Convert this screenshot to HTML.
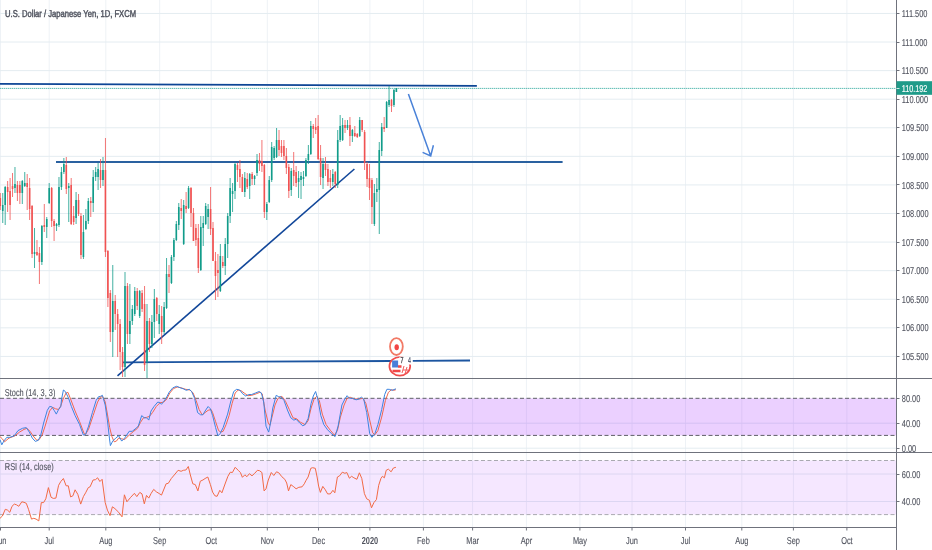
<!DOCTYPE html><html><head><meta charset="utf-8"><title>USDJPY 1D chart</title><style>
html,body{margin:0;padding:0;background:#fff;width:932px;height:550px;overflow:hidden}
svg{display:block}text{text-rendering:geometricPrecision;font-family:"Liberation Sans",Arial,sans-serif;font-size:10px;fill:#50535e;stroke:#50535e;stroke-width:0.12px}
</style></head><body>
<svg width="932" height="550" viewBox="0 0 932 550">
<path d="M0.5 0V527M49.2 0V527M105.8 0V527M159.7 0V527M211.2 0V527M267.3 0V527M318.5 0V527M369.9 0V527M423.4 0V527M472.6 0V527M526.4 0V527M579.9 0V527M632.0 0V527M685.5 0V527M741.8 0V527M793.4 0V527M846.9 0V527" stroke="#eef2f6" stroke-width="1" fill="none"/>
<path d="M0 13.45H896.5M0 42.03H896.5M0 70.61H896.5M0 99.19H896.5M0 127.77H896.5M0 156.35H896.5M0 184.93H896.5M0 213.51H896.5M0 242.09H896.5M0 270.67H896.5M0 299.25H896.5M0 327.83H896.5M0 356.41H896.5M0 423.20H896.5M0 448.20H896.5M0 474.00H896.5M0 501.50H896.5" stroke="#e4ecf1" stroke-width="1" fill="none"/>
<rect x="0" y="398.3" width="896.5" height="37.1" fill="rgba(153,21,255,0.2)"/>
<rect x="0" y="460.5" width="896.5" height="54.1" fill="rgba(153,21,255,0.1)"/>
<path d="M0 398.3H896.5M0 435.4H896.5" stroke="#5d5f66" stroke-width="1" stroke-dasharray="4 2.5" fill="none"/>
<path d="M0 460.5H896.5M0 514.6H896.5" stroke="#a9a9b0" stroke-width="1" stroke-dasharray="4 2.5" fill="none"/>
<path d="M0 88.4H896.5" stroke="#26a69a" stroke-opacity="0.75" stroke-width="1" stroke-dasharray="1.4 0.6" fill="none"/>
<path d="M0 83.9L476.9 85.9" stroke="#0d4595" stroke-width="1.7" fill="none"/>
<path d="M56 162H562.6" stroke="#2a61a0" stroke-width="2" fill="none"/>
<path d="M123 362.3L391.7 361M412.8 360.8L470 360.5" stroke="#1c55a0" stroke-width="1.8" fill="none"/>
<path d="M117.5 375.8L354.4 169" stroke="#12479a" stroke-width="1.6" fill="none"/>
<path d="M2.75 193.0V223.0M5.19 186.0V225.0M14.97 167.0V193.0M22.31 180.0V204.0M24.75 172.0V187.0M34.53 228.0V268.0M41.87 225.0V265.0M46.76 217.0V238.0M49.20 183.0V204.0M56.54 223.0V231.0M58.98 177.0V227.0M61.43 167.0V190.0M63.87 158.0V174.0M68.76 183.0V222.0M76.09 192.0V224.0M83.43 215.0V259.0M85.88 209.0V230.0M88.32 198.0V224.0M93.21 170.0V212.0M95.66 167.0V181.0M98.10 163.0V190.0M102.99 157.0V186.0M112.77 265.0V357.0M125.00 272.0V377.0M129.88 284.0V344.0M132.33 305.0V325.0M134.77 287.0V316.0M139.66 290.0V318.0M147.00 304.0V378.0M151.89 315.0V348.0M154.33 289.0V338.0M159.22 305.0V334.0M164.12 302.0V334.0M166.56 258.0V309.0M171.45 255.0V284.0M173.89 238.0V261.0M176.34 221.0V241.0M178.78 203.0V230.0M183.68 200.0V245.0M188.56 186.0V209.0M200.79 216.0V271.0M203.24 216.0V246.0M205.68 203.0V225.0M208.12 204.0V229.0M220.35 244.0V292.0M225.24 238.0V275.0M227.69 213.0V258.0M230.13 178.0V223.0M232.57 183.0V212.0M235.02 163.0V199.0M244.80 172.0V197.0M249.69 173.0V199.0M254.58 175.0V185.0M257.02 154.0V176.0M266.81 202.0V220.0M269.25 176.0V203.0M271.69 142.0V182.0M274.14 146.0V160.0M276.58 128.0V158.0M291.25 168.0V196.0M298.59 171.0V198.0M301.03 172.0V199.0M303.48 171.0V186.0M305.92 158.0V177.0M308.37 145.0V164.0M310.81 121.0V155.0M323.04 158.0V189.0M332.82 169.0V186.0M337.71 130.0V188.0M340.15 115.0V142.0M342.60 118.0V141.0M347.49 120.0V130.0M352.38 129.0V142.0M359.71 117.0V137.0M374.38 184.0V226.0M376.83 178.0V202.0M379.27 142.0V234.0M381.72 123.0V156.0M386.61 101.0V128.0M389.05 86.0V107.0M393.94 89.0V107.0M396.39 88.0V92.0" stroke="#119c8a" stroke-width="0.8" fill="none"/>
<path d="M0.30 193.0V210.0M7.64 181.0V212.0M10.08 178.0V220.0M12.53 173.0V197.0M17.42 181.0V201.0M19.86 181.0V204.0M27.20 174.0V210.0M29.64 178.0V220.0M32.09 205.0V258.0M36.98 240.0V256.0M39.42 247.0V284.0M44.31 204.0V232.0M51.65 187.0V227.0M54.09 219.0V241.0M66.31 157.0V194.0M71.20 178.0V225.0M73.65 206.0V225.0M78.54 194.0V216.0M80.98 213.0V259.0M90.77 197.0V217.0M100.55 159.0V188.0M105.44 138.0V257.0M107.88 250.0V307.0M110.32 290.0V342.0M115.22 295.0V330.0M117.66 309.0V357.0M120.11 319.0V370.0M122.55 347.0V377.0M127.44 283.0V344.0M137.22 288.0V310.0M142.11 290.0V312.0M144.56 286.0V371.0M149.44 318.0V352.0M156.78 297.0V321.0M161.67 306.0V344.0M169.00 265.0V293.0M181.23 199.0V219.0M186.12 192.0V213.0M191.01 187.0V227.0M193.45 208.0V241.0M195.90 224.0V246.0M198.34 224.0V273.0M210.57 187.0V235.0M213.01 222.0V261.0M215.46 252.0V300.0M217.90 254.0V297.0M222.80 256.0V268.0M237.46 163.0V182.0M239.91 160.0V188.0M242.36 174.0V192.0M247.25 173.0V189.0M252.13 172.0V185.0M259.47 153.0V171.0M261.91 140.0V172.0M264.36 164.0V218.0M279.03 130.0V156.0M281.47 140.0V157.0M283.92 140.0V160.0M286.37 148.0V174.0M288.81 164.0V198.0M293.70 152.0V186.0M296.14 166.0V187.0M313.26 124.0V138.0M315.70 118.0V134.0M318.15 115.0V160.0M320.59 145.0V185.0M325.48 157.0V176.0M327.93 164.0V186.0M330.37 170.0V188.0M335.26 171.0V188.0M345.04 120.0V133.0M349.93 117.0V146.0M354.82 126.0V137.0M357.27 133.0V138.0M362.16 120.0V132.0M364.60 130.0V170.0M367.05 162.0V187.0M369.49 164.0V200.0M371.94 178.0V224.0M384.16 117.0V132.0M391.50 99.0V112.0" stroke="#f05252" stroke-width="0.8" fill="none"/>
<path d="M2.75 205.0V211.0M5.19 187.0V205.0M14.97 184.0V188.0M22.31 181.0V193.0M24.75 183.0V186.0M34.53 252.0V254.0M41.87 226.0V262.0M46.76 219.0V227.0M49.20 188.0V203.0M56.54 224.0V226.0M58.98 187.0V225.0M61.43 172.0V187.0M63.87 164.0V172.0M68.76 186.0V188.0M76.09 200.0V218.0M83.43 232.0V257.0M85.88 221.0V229.0M88.32 201.0V221.0M93.21 177.0V203.0M95.66 172.0V177.0M98.10 169.0V177.0M102.99 170.0V180.0M112.77 301.0V332.0M125.00 286.0V367.0M129.88 321.0V334.0M132.33 309.0V321.0M134.77 291.0V314.0M139.66 291.0V316.0M147.00 321.0V362.0M151.89 322.0V344.0M154.33 299.0V322.0M159.22 314.0V324.0M164.12 307.0V332.0M166.56 274.0V308.0M171.45 257.0V283.0M173.89 240.0V257.0M176.34 224.0V240.0M178.78 207.0V225.0M183.68 205.0V244.0M188.56 188.0V208.0M200.79 227.0V270.0M203.24 223.0V228.0M205.68 206.0V224.0M208.12 209.0V217.0M220.35 256.0V291.0M225.24 244.0V266.0M227.69 216.0V244.0M230.13 188.0V216.0M232.57 191.0V194.0M235.02 164.0V191.0M244.80 178.0V192.0M249.69 174.0V186.0M254.58 176.0V179.0M257.02 160.0V173.0M266.81 204.0V212.0M269.25 180.0V202.0M271.69 147.0V180.0M274.14 148.0V158.0M276.58 140.0V157.0M291.25 171.0V190.0M298.59 178.0V182.0M301.03 176.0V180.0M303.48 177.0V179.0M305.92 160.0V176.0M308.37 154.0V160.0M310.81 126.0V154.0M323.04 164.0V178.0M332.82 174.0V182.0M337.71 140.0V185.0M340.15 126.0V140.0M342.60 125.0V140.0M347.49 125.0V128.0M352.38 130.0V136.0M359.71 120.0V136.0M374.38 193.0V224.0M376.83 189.0V192.0M379.27 150.0V190.0M381.72 127.0V151.0M386.61 102.0V128.0M389.05 100.0V105.0M393.94 90.0V105.0M396.39 88.0V92.0" stroke="#119c8a" stroke-width="1.6" fill="none"/>
<path d="M0.30 198.0V206.0M7.64 187.0V192.0M10.08 191.0V205.0M12.53 186.0V189.0M17.42 185.0V193.0M19.86 185.0V193.0M27.20 183.0V187.0M29.64 188.0V209.0M32.09 206.0V254.0M36.98 252.0V255.0M39.42 253.0V262.0M44.31 225.0V227.0M51.65 188.0V221.0M54.09 221.0V226.0M66.31 165.0V189.0M71.20 185.0V224.0M73.65 216.0V222.0M78.54 200.0V214.0M80.98 216.0V255.0M90.77 201.0V203.0M100.55 170.0V180.0M105.44 170.0V252.0M107.88 251.0V298.0M110.32 293.0V332.0M115.22 301.0V314.0M117.66 314.0V324.0M120.11 324.0V352.0M122.55 352.0V367.0M127.44 286.0V334.0M137.22 291.0V306.0M142.11 293.0V309.0M144.56 304.0V365.0M149.44 321.0V344.0M156.78 298.0V314.0M161.67 316.0V332.0M169.00 274.0V277.0M181.23 208.0V211.0M186.12 206.0V209.0M191.01 188.0V213.0M193.45 213.0V241.0M195.90 228.0V240.0M198.34 238.0V268.0M210.57 209.0V229.0M213.01 228.0V261.0M215.46 261.0V276.0M217.90 270.0V273.0M222.80 262.0V266.0M237.46 165.0V170.0M239.91 169.0V177.0M242.36 177.0V192.0M247.25 179.0V187.0M252.13 174.0V179.0M259.47 160.0V164.0M261.91 161.0V166.0M264.36 165.0V212.0M279.03 140.0V150.0M281.47 146.0V153.0M283.92 146.0V156.0M286.37 156.0V168.0M288.81 167.0V191.0M293.70 170.0V176.0M296.14 172.0V183.0M313.26 126.0V129.0M315.70 127.0V130.0M318.15 126.0V159.0M320.59 158.0V177.0M325.48 164.0V170.0M327.93 169.0V182.0M330.37 178.0V182.0M335.26 172.0V184.0M345.04 125.0V128.0M349.93 125.0V136.0M354.82 133.0V136.0M357.27 134.0V137.0M362.16 120.0V130.0M364.60 132.0V163.0M367.05 164.0V179.0M369.49 178.0V188.0M371.94 180.0V207.0M384.16 127.0V129.0M391.50 100.0V106.0" stroke="#f05252" stroke-width="1.6" fill="none"/>
<polyline points="0.0,436.6 2.3,438.8 4.5,441.8 9.0,438.1 15.0,435.8 19.5,432.1 24.0,429.4 27.0,428.3 30.0,431.3 33.0,435.8 36.8,440.3 39.1,439.6 42.1,435.1 45.1,426.1 49.6,411.0 52.6,407.3 55.6,408.8 58.6,409.5 60.8,405.8 63.1,399.0 66.1,393.0 67.9,392.3 70.6,399.0 75.1,411.0 79.6,421.6 84.1,433.6 85.6,434.3 88.6,429.1 93.1,415.6 97.6,402.0 100.6,396.8 102.9,396.8 105.2,402.0 107.4,414.1 109.7,427.6 111.9,436.6 114.2,441.8 116.4,441.1 118.7,438.1 121.7,438.8 124.7,439.6 129.2,435.1 133.7,431.3 137.5,428.3 140.5,422.3 143.5,417.8 146.5,417.4 149.5,416.3 152.5,412.6 156.3,406.5 160.0,402.8 163.8,402.0 166.8,399.0 169.8,393.0 173.6,388.5 177.3,387.0 181.1,387.8 185.6,389.3 190.1,390.0 193.1,393.0 196.1,400.5 199.1,409.5 202.1,414.8 205.1,412.6 208.1,410.3 211.1,409.5 212.6,412.6 215.6,421.6 218.6,430.6 220.9,432.1 223.1,431.3 226.1,424.6 229.1,415.6 232.1,403.5 235.2,393.0 238.2,390.0 241.2,390.8 244.2,393.0 247.9,395.7 251.7,395.3 256.2,393.8 259.9,392.3 262.2,393.8 265.3,411.0 268.3,423.1 269.8,425.3 272.0,417.1 275.0,405.0 278.0,398.3 281.8,396.3 285.5,401.3 289.3,409.5 293.0,417.8 296.8,418.9 300.6,422.3 305.1,424.6 308.1,420.8 311.1,408.0 314.1,399.0 316.8,396.3 319.3,400.5 322.3,414.1 326.1,424.6 330.6,430.6 334.4,435.1 337.4,430.6 340.4,417.1 344.1,405.0 347.1,398.3 350.1,397.2 353.9,399.0 359.1,399.0 362.9,398.3 365.9,403.5 369.7,420.1 372.7,432.8 374.9,434.8 377.9,430.6 381.7,417.1 385.4,400.5 388.4,392.3 391.4,389.7 393.7,390.3 395.9,389.7" stroke="#f0674f" stroke-width="1" fill="none"/>
<polyline points="0.0,439.6 1.8,444.8 3.8,441.1 6.8,437.3 9.8,437.3 14.3,435.8 18.0,430.6 22.5,428.3 26.3,427.6 29.3,432.1 32.3,438.1 35.3,441.4 38.3,440.3 40.6,435.8 43.6,423.1 47.3,410.3 49.6,406.5 51.8,406.8 54.1,410.3 56.3,414.1 58.6,409.5 60.8,406.5 61.6,399.0 63.4,390.0 65.3,391.5 68.3,397.5 71.4,406.5 75.1,415.6 79.6,424.6 83.4,435.1 85.6,434.3 88.6,426.1 92.4,412.6 96.1,400.5 98.4,396.8 100.6,396.3 102.4,395.3 105.2,405.0 107.4,420.1 109.4,438.1 110.4,445.6 112.7,441.1 115.7,438.1 118.7,435.8 121.7,441.1 124.7,438.1 129.2,431.3 132.2,431.3 136.0,428.3 138.3,426.1 141.7,415.6 144.3,417.8 146.5,417.8 148.8,420.1 151.0,411.0 154.0,406.5 157.8,402.0 160.0,402.8 161.5,404.3 163.8,401.3 166.1,398.3 169.1,392.3 172.8,387.8 176.6,386.3 180.3,387.8 183.3,388.8 186.3,390.3 189.3,389.3 191.6,391.5 194.6,398.3 197.6,412.6 200.6,414.8 202.9,414.8 205.1,411.0 208.1,406.5 210.4,408.8 212.6,415.6 215.6,427.6 217.9,435.8 220.1,433.6 223.1,427.6 227.6,414.1 230.6,402.0 233.7,391.5 236.7,389.3 239.7,390.0 242.7,393.8 245.7,396.0 248.7,394.5 251.7,394.5 255.4,393.0 259.2,391.5 261.4,393.0 263.7,402.0 266.0,426.1 268.7,432.1 270.5,423.1 272.8,408.0 276.2,395.3 278.8,396.8 281.0,396.8 284.0,400.5 287.8,411.0 290.8,417.8 293.8,420.1 296.1,419.3 299.8,423.1 302.8,425.8 305.1,424.6 308.1,418.6 311.1,403.5 313.3,396.0 315.6,391.5 317.8,399.0 320.8,415.6 323.8,424.6 327.6,429.8 331.4,433.6 335.1,436.6 338.1,426.1 341.9,405.0 344.9,399.0 347.1,395.7 349.4,398.3 352.4,398.3 356.1,399.8 359.1,399.0 361.4,397.2 363.7,399.0 366.7,412.6 369.7,433.6 371.9,437.3 374.9,433.6 377.9,424.6 381.7,409.5 384.7,394.5 386.9,389.3 389.2,389.3 392.2,390.3 395.9,388.8" stroke="#3d85e0" stroke-width="1" fill="none"/>
<polyline points="0.0,518.3 2.3,516.1 5.3,509.3 7.5,510.1 9.8,512.3 12.0,506.3 14.3,504.1 16.5,504.8 18.8,506.3 21.8,501.8 24.0,502.3 26.3,503.3 28.5,509.3 31.5,519.1 33.8,518.3 36.1,519.1 38.8,520.9 41.3,502.6 43.6,502.6 45.8,498.8 48.4,487.6 51.1,497.3 53.3,498.4 55.9,498.1 58.6,485.3 60.8,481.5 63.4,478.5 66.1,485.8 68.3,485.8 70.6,496.9 72.9,495.8 75.1,489.8 77.8,494.3 80.7,504.1 83.4,496.6 85.6,492.8 88.3,487.6 90.1,486.8 93.1,480.0 95.4,479.7 97.6,477.8 99.9,481.5 102.1,479.3 105.2,502.6 107.4,510.1 110.0,515.6 112.4,506.8 114.9,508.6 118.7,512.3 122.0,516.8 124.4,494.8 126.9,501.8 130.7,497.3 134.4,493.3 136.8,496.6 139.8,492.4 142.0,493.9 144.3,503.8 146.5,495.4 148.8,498.1 151.0,493.6 153.7,489.4 156.3,491.8 159.3,493.6 161.5,495.1 166.1,483.8 168.3,483.3 171.3,478.5 175.1,474.0 178.1,470.3 181.1,471.3 183.3,470.3 185.9,470.0 188.3,466.5 190.1,474.0 192.8,483.8 195.3,484.6 197.9,490.9 200.3,481.2 202.9,480.0 205.1,478.5 207.8,477.0 210.4,484.6 212.6,492.1 214.9,495.8 217.1,496.3 219.8,490.3 221.9,492.8 225.4,483.0 227.9,476.3 230.3,472.2 232.4,472.5 235.2,467.3 238.2,470.3 240.4,472.5 242.4,477.3 244.9,474.8 246.9,476.7 249.4,473.7 252.0,475.8 254.7,473.3 257.4,470.3 259.5,470.7 261.9,472.5 264.1,490.9 266.0,488.8 268.3,480.0 271.3,472.5 273.8,475.5 276.5,471.8 278.8,472.8 281.8,476.7 284.8,479.3 286.7,483.0 288.5,490.9 290.8,484.6 293.8,486.8 296.1,488.8 298.8,487.3 302.1,486.8 304.3,483.8 305.8,480.8 308.1,477.0 310.8,468.3 312.6,467.7 315.3,468.3 317.1,477.0 318.6,486.1 320.4,492.4 322.8,486.4 325.3,489.8 327.6,493.9 330.3,493.9 332.9,490.3 334.8,492.8 337.4,477.0 339.6,475.8 342.3,472.2 344.9,473.3 346.8,472.5 349.4,478.2 351.6,476.3 353.9,477.8 356.9,479.3 359.4,472.8 361.8,478.5 364.4,493.6 366.7,498.8 369.4,500.3 371.5,507.8 373.9,502.6 376.4,499.6 378.7,485.3 380.9,478.5 382.4,476.3 384.4,477.8 386.2,470.3 388.4,469.2 391.1,471.8 393.4,468.0 395.9,467.3" stroke="#f26a45" stroke-width="1" fill="none"/>
<path d="M408.4 94.1L430.7 156M422.6 152.4L430.7 156L433.4 145.2" stroke="#4a82d8" stroke-width="1.5" fill="none"/>
<ellipse cx="396.4" cy="346.6" rx="6.4" ry="8.4" fill="#fff" stroke="#f27a66" stroke-width="1.8"/>
<ellipse cx="396.7" cy="347.2" rx="2.2" ry="3" fill="#f24646"/>
<ellipse cx="399.8" cy="366.3" rx="10.4" ry="9.3" fill="#fff" stroke="#f04c4c" stroke-width="1.7"/>
<rect x="392.1" y="360.5" width="6" height="7" fill="#4a7fd8"/>
<path d="M398 366.5H401.5M392.5 371H400.5" stroke="#f04848" stroke-width="2.4"/>
<path d="M402 373L404 366M405 374L407 367M403 370H408" stroke="#f25a5a" stroke-width="1"/>
<rect x="399.5" y="356.6" width="12.5" height="7.9" fill="#fff"/>
<text x="0" y="0" transform="translate(400.6,363.4) scale(0.62,1)" style="font-size:8.5px;fill:#2e2e36;stroke:#2e2e36;stroke-width:0.3">7</text>
<text x="0" y="0" transform="translate(408,363.4) scale(0.62,1)" style="font-size:8.5px;fill:#3a4a6a">4</text>
<path d="M0 378.5H932M0 452.5H932M0 527.5H896.5" stroke="#6f727c" stroke-width="1" fill="none"/>
<path d="M896.5 0V550" stroke="#6f727c" stroke-width="1" fill="none"/>
<path d="M896.5 13.5H899.5M896.5 42.5H899.5M896.5 70.5H899.5M896.5 99.5H899.5M896.5 127.5H899.5M896.5 156.5H899.5M896.5 184.5H899.5M896.5 213.5H899.5M896.5 242.5H899.5M896.5 270.5H899.5M896.5 299.5H899.5M896.5 327.5H899.5M896.5 356.5H899.5M896.5 398.5H899.5M896.5 423.5H899.5M896.5 448.5H899.5M896.5 474.5H899.5M896.5 501.5H899.5M0.5 527.5V530.5M49.2 527.5V530.5M105.8 527.5V530.5M159.7 527.5V530.5M211.2 527.5V530.5M267.3 527.5V530.5M318.5 527.5V530.5M369.9 527.5V530.5M423.4 527.5V530.5M472.6 527.5V530.5M526.4 527.5V530.5M579.9 527.5V530.5M632.0 527.5V530.5M685.5 527.5V530.5M741.8 527.5V530.5M793.4 527.5V530.5M846.9 527.5V530.5" stroke="#6f727c" stroke-width="1" fill="none"/>
<rect x="896.5" y="81.2" width="35.5" height="13.6" fill="#1f9b89"/>
<path d="M896.5 88.5H899.5" stroke="#cfeee9" stroke-width="1"/>
<text x="0" y="0" text-anchor="start" transform="translate(901.8,17.1) scale(0.74,1)">111.500</text>
<text x="0" y="0" text-anchor="start" transform="translate(901.8,45.6) scale(0.74,1)">111.000</text>
<text x="0" y="0" text-anchor="start" transform="translate(901.8,74.2) scale(0.74,1)">110.500</text>
<text x="0" y="0" text-anchor="start" transform="translate(901.8,102.8) scale(0.74,1)">110.000</text>
<text x="0" y="0" text-anchor="start" transform="translate(901.8,131.4) scale(0.74,1)">109.500</text>
<text x="0" y="0" text-anchor="start" transform="translate(901.8,159.9) scale(0.74,1)">109.000</text>
<text x="0" y="0" text-anchor="start" transform="translate(901.8,188.5) scale(0.74,1)">108.500</text>
<text x="0" y="0" text-anchor="start" transform="translate(901.8,217.1) scale(0.74,1)">108.000</text>
<text x="0" y="0" text-anchor="start" transform="translate(901.8,245.7) scale(0.74,1)">107.500</text>
<text x="0" y="0" text-anchor="start" transform="translate(901.8,274.3) scale(0.74,1)">107.000</text>
<text x="0" y="0" text-anchor="start" transform="translate(901.8,302.8) scale(0.74,1)">106.500</text>
<text x="0" y="0" text-anchor="start" transform="translate(901.8,331.4) scale(0.74,1)">106.000</text>
<text x="0" y="0" text-anchor="start" transform="translate(901.8,360.0) scale(0.74,1)">105.500</text>
<text x="0" y="0" transform="translate(901.8,91.6) scale(0.72,1)" style="fill:#fff;stroke:#fff;stroke-width:0.2px">110.192</text>
<text x="0" y="0" text-anchor="start" transform="translate(901.8,401.9) scale(0.74,1)">80.00</text>
<text x="0" y="0" text-anchor="start" transform="translate(901.8,426.8) scale(0.74,1)">40.00</text>
<text x="0" y="0" text-anchor="start" transform="translate(901.8,451.8) scale(0.74,1)">0.00</text>
<text x="0" y="0" text-anchor="start" transform="translate(901.8,477.6) scale(0.74,1)">60.00</text>
<text x="0" y="0" text-anchor="start" transform="translate(901.8,505.1) scale(0.74,1)">40.00</text>
<text x="0" y="0" text-anchor="middle" transform="translate(0.5,543.7) scale(0.74,1)">Jun</text>
<text x="0" y="0" text-anchor="middle" transform="translate(49.2,543.7) scale(0.74,1)">Jul</text>
<text x="0" y="0" text-anchor="middle" transform="translate(105.8,543.7) scale(0.74,1)">Aug</text>
<text x="0" y="0" text-anchor="middle" transform="translate(159.7,543.7) scale(0.74,1)">Sep</text>
<text x="0" y="0" text-anchor="middle" transform="translate(211.2,543.7) scale(0.74,1)">Oct</text>
<text x="0" y="0" text-anchor="middle" transform="translate(267.3,543.7) scale(0.74,1)">Nov</text>
<text x="0" y="0" text-anchor="middle" transform="translate(318.5,543.7) scale(0.74,1)">Dec</text>
<text x="0" y="0" text-anchor="middle" transform="translate(369.9,543.7) scale(0.74,1)" style="font-weight:bold;stroke-width:0">2020</text>
<text x="0" y="0" text-anchor="middle" transform="translate(423.4,543.7) scale(0.74,1)">Feb</text>
<text x="0" y="0" text-anchor="middle" transform="translate(472.6,543.7) scale(0.74,1)">Mar</text>
<text x="0" y="0" text-anchor="middle" transform="translate(526.4,543.7) scale(0.74,1)">Apr</text>
<text x="0" y="0" text-anchor="middle" transform="translate(579.9,543.7) scale(0.74,1)">May</text>
<text x="0" y="0" text-anchor="middle" transform="translate(632.0,543.7) scale(0.74,1)">Jun</text>
<text x="0" y="0" text-anchor="middle" transform="translate(685.5,543.7) scale(0.74,1)">Jul</text>
<text x="0" y="0" text-anchor="middle" transform="translate(741.8,543.7) scale(0.74,1)">Aug</text>
<text x="0" y="0" text-anchor="middle" transform="translate(793.4,543.7) scale(0.74,1)">Sep</text>
<text x="0" y="0" text-anchor="middle" transform="translate(846.9,543.7) scale(0.74,1)">Oct</text>
<text x="0" y="0" transform="translate(5,16.7) scale(0.763,1)" style="stroke-width:0.45px">U.S. Dollar / Japanese Yen, 1D, FXCM</text>
<text x="0" y="0" text-anchor="start" transform="translate(4.8,396.2) scale(0.74,1)">Stoch (14, 3, 3)</text>
<text x="0" y="0" text-anchor="start" transform="translate(4.8,470.0) scale(0.74,1)">RSI (14, close)</text>
</svg></body></html>
